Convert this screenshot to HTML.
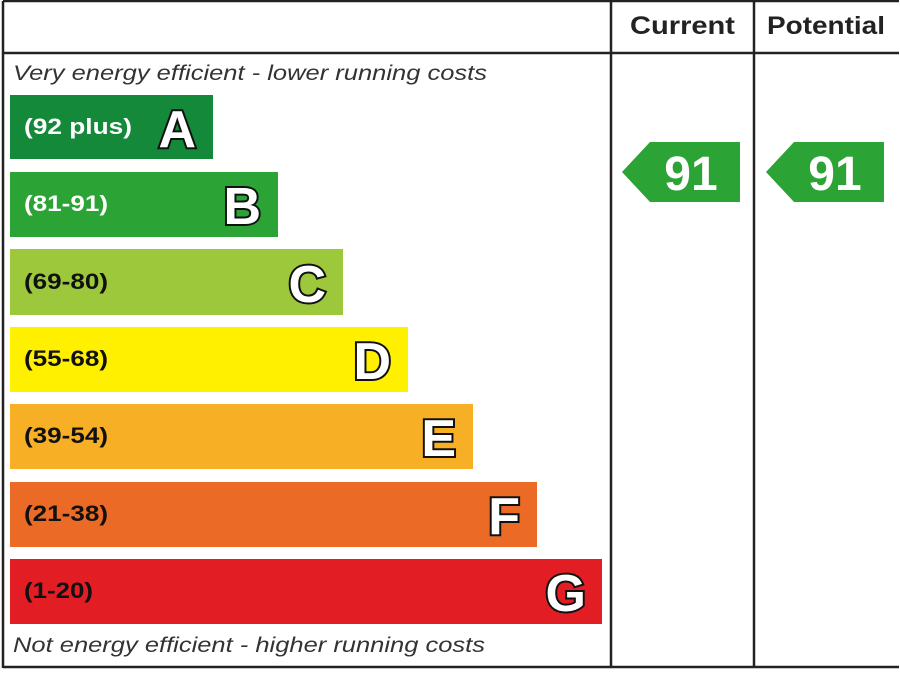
<!DOCTYPE html>
<html><head><style>html,body{margin:0;padding:0;background:#fff}svg{font-family:"Liberation Sans",Arial,sans-serif}</style></head><body>
<svg width="900" height="675" xmlns="http://www.w3.org/2000/svg">
<rect x="0" y="0" width="900" height="675" fill="#fff"/>
<g stroke="#222" stroke-width="2.5" fill="none">
<line x1="3" y1="1" x2="899" y2="1"/>
<line x1="3" y1="1" x2="3" y2="668"/>
<line x1="3" y1="53" x2="899" y2="53"/>
<line x1="3" y1="667" x2="899" y2="667"/>
<line x1="611" y1="1" x2="611" y2="667"/>
<line x1="754" y1="1" x2="754" y2="667"/>
</g>
<g font-weight="bold" font-size="25" fill="#222">
<text x="630" y="34" textLength="105" lengthAdjust="spacingAndGlyphs">Current</text>
<text x="767" y="34" textLength="118" lengthAdjust="spacingAndGlyphs">Potential</text>
</g>
<g font-style="italic" font-size="21" fill="#333">
<text x="13" y="80" textLength="474" lengthAdjust="spacingAndGlyphs">Very energy efficient - lower running costs</text>
<text x="13" y="652" textLength="472" lengthAdjust="spacingAndGlyphs">Not energy efficient - higher running costs</text>
</g>
<rect x="10" y="95" width="203" height="64" fill="#138939"/>
<rect x="10" y="172" width="268" height="65" fill="#2ca335"/>
<rect x="10" y="249" width="333" height="66" fill="#9dc83c"/>
<rect x="10" y="327" width="398" height="65" fill="#fff000"/>
<rect x="10" y="404" width="463" height="65" fill="#f7af26"/>
<rect x="10" y="482" width="527" height="65" fill="#eb6a25"/>
<rect x="10" y="559" width="592" height="65" fill="#e21d24"/>
<g font-weight="bold" font-size="22" lengthAdjust="spacingAndGlyphs">
<text x="24" y="134" fill="#fff" textLength="108" lengthAdjust="spacingAndGlyphs">(92 plus)</text>
<text x="24" y="211" fill="#fff" textLength="84" lengthAdjust="spacingAndGlyphs">(81-91)</text>
<text x="24" y="289" fill="#111" textLength="84" lengthAdjust="spacingAndGlyphs">(69-80)</text>
<text x="24" y="366" fill="#111" textLength="84" lengthAdjust="spacingAndGlyphs">(55-68)</text>
<text x="24" y="443" fill="#111" textLength="84" lengthAdjust="spacingAndGlyphs">(39-54)</text>
<text x="24" y="521" fill="#111" textLength="84" lengthAdjust="spacingAndGlyphs">(21-38)</text>
<text x="24" y="598" fill="#111" textLength="69" lengthAdjust="spacingAndGlyphs">(1-20)</text>
</g>
<g font-weight="bold" font-size="52" fill="#fff" stroke="#111" stroke-width="4" paint-order="stroke" text-anchor="end">
<text x="196" y="147">A</text>
<text x="261" y="224">B</text>
<text x="326" y="302">C</text>
<text x="391" y="379">D</text>
<text x="456" y="456">E</text>
<text x="520" y="534">F</text>
<text x="586" y="611">G</text>
</g>
<polygon points="622,172 650,142 740,142 740,202 650,202" fill="#2ca335"/>
<polygon points="766,172 794,142 884,142 884,202 794,202" fill="#2ca335"/>
<g font-weight="bold" font-size="48" fill="#fff" text-anchor="middle">
<text x="691" y="190">91</text>
<text x="835" y="190">91</text>
</g>
</svg>
</body></html>
